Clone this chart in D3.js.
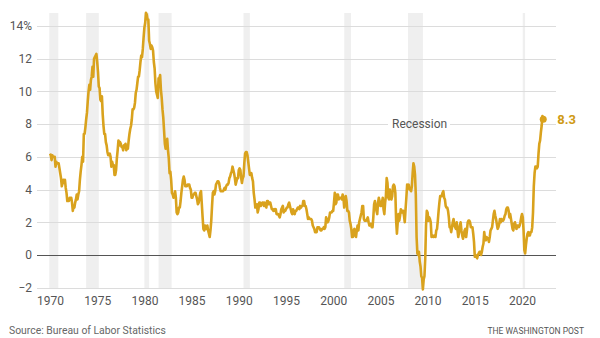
<!DOCTYPE html>
<html><head><meta charset="utf-8">
<script src="https://cdn.jsdelivr.net/npm/d3@7"></script>
<style>body{margin:0;background:#fff}svg{display:block}</style>
</head><body><svg id="c" width="600" height="338"></svg>
<script>
// Monthly CPI-U, year-over-year % change, Jan 1970 – Apr 2022
const startYear = 1970;
const cpi = [
6.2,6.1,5.8,6.1,6.0,6.0,6.0,5.4,5.7,5.6,5.6,5.6,
5.3,5.0,4.7,4.2,4.4,4.6,4.4,4.6,4.1,3.8,3.3,3.3,
3.3,3.5,3.5,3.5,3.2,2.7,3.0,2.9,3.2,3.4,3.7,3.4,
3.7,3.9,4.6,5.1,5.5,6.0,5.7,7.4,7.4,7.8,8.3,8.7,
9.4,10.0,10.4,10.1,10.7,10.9,11.5,10.9,12.0,12.1,12.2,12.3,
11.8,11.2,10.3,10.2,9.5,9.4,9.7,8.6,7.9,7.4,7.4,6.9,
6.7,6.3,6.1,6.1,6.2,6.0,5.4,5.7,5.5,5.5,4.9,4.9,
5.2,5.9,6.4,7.0,6.7,6.9,6.8,6.6,6.6,6.4,6.7,6.7,
6.8,6.4,6.6,6.5,7.0,7.4,7.7,7.9,8.3,8.9,8.9,9.0,
9.3,9.9,10.1,10.5,10.9,10.9,11.3,11.8,12.2,12.1,12.6,13.3,
13.9,14.2,14.8,14.7,14.4,14.4,13.1,12.9,12.6,12.8,12.7,12.5,
11.8,11.4,10.5,10.0,9.8,9.6,10.8,10.8,11.0,10.1,9.6,8.9,
8.4,7.6,6.8,6.5,6.7,7.1,6.4,5.9,5.0,5.1,4.6,3.8,
3.7,3.5,3.6,3.9,3.5,2.6,2.5,2.6,2.9,2.9,3.3,3.8,
4.2,4.6,4.8,4.6,4.2,4.2,4.2,4.3,4.3,4.3,4.1,4.0,
3.5,3.5,3.7,3.7,3.8,3.8,3.6,3.4,3.1,3.2,3.5,3.8,
3.9,3.1,2.3,1.6,1.5,1.8,1.6,1.6,1.8,1.5,1.3,1.1,
1.5,2.1,3.0,3.8,3.9,3.7,3.9,4.3,4.4,4.5,4.5,4.4,
4.1,3.9,3.9,3.9,3.9,4.0,4.1,4.0,4.2,4.3,4.3,4.4,
4.7,4.8,5.0,5.1,5.4,5.2,5.0,4.7,4.3,4.5,4.7,4.7,
5.2,5.3,5.2,4.7,4.4,4.7,4.8,5.6,6.2,6.3,6.3,6.1,
5.7,5.3,4.9,4.9,5.0,4.7,4.5,3.8,3.4,2.9,3.0,3.1,
2.6,2.8,3.2,3.2,3.0,3.1,3.2,3.2,3.0,3.2,3.1,2.9,
3.3,3.3,3.1,3.2,3.2,3.0,2.8,2.8,2.7,2.8,2.7,2.8,
2.5,2.5,2.5,2.4,2.3,2.5,2.8,2.9,3.0,2.6,2.7,2.7,
2.8,2.9,2.9,3.1,3.2,3.0,2.8,2.6,2.5,2.8,2.6,2.5,
2.7,2.7,2.8,2.9,2.9,2.8,3.0,2.9,3.0,3.0,3.3,3.3,
3.0,3.0,2.8,2.5,2.2,2.3,2.2,2.2,2.2,2.1,1.8,1.7,
1.6,1.4,1.4,1.4,1.7,1.7,1.7,1.6,1.5,1.5,1.6,1.6,
1.7,1.6,1.7,2.3,2.1,2.0,2.1,2.3,2.6,2.6,2.6,2.7,
2.7,3.2,3.8,3.1,3.2,3.7,3.7,3.4,3.5,3.5,3.5,3.4,
3.7,3.5,2.9,3.3,3.6,3.3,2.7,2.7,2.6,2.1,1.9,1.6,
1.1,1.1,1.5,1.6,1.2,1.1,1.5,1.8,1.5,2.0,2.2,2.4,
2.6,3.0,3.0,2.2,2.1,2.1,2.1,2.2,2.3,2.0,1.8,1.9,
1.9,1.7,1.7,2.3,3.1,3.3,3.0,2.7,2.5,3.2,3.5,3.3,
3.0,3.0,3.2,3.5,2.8,2.5,3.2,3.6,4.7,4.4,3.5,3.4,
4.0,3.6,3.4,3.6,4.2,4.3,4.2,3.8,2.1,1.3,2.0,2.5,
2.1,2.4,2.8,2.6,2.7,2.7,2.4,2.0,2.8,3.5,4.3,4.1,
4.3,4.0,4.0,3.9,4.2,5.0,5.6,5.4,4.9,3.7,1.1,0.1,
0.0,0.2,-0.4,-0.7,-1.3,-1.4,-2.1,-1.5,-1.3,-0.2,1.8,2.7,
2.6,2.1,2.3,2.2,2.0,1.1,1.2,1.1,1.1,1.2,1.1,1.5,
1.6,2.1,2.7,3.2,3.6,3.6,3.6,3.8,3.9,3.5,3.4,3.0,
2.9,2.9,2.7,2.3,1.7,1.7,1.4,1.7,2.0,2.2,1.8,1.7,
1.6,2.0,1.5,1.1,1.4,1.8,2.0,1.5,1.2,1.0,1.2,1.5,
1.6,1.1,1.5,2.0,2.1,2.1,2.0,1.7,1.7,1.7,1.3,0.8,
-0.1,0.0,-0.1,-0.2,0.0,0.1,0.2,0.2,0.0,0.2,0.5,0.7,
1.4,1.0,0.9,1.1,1.0,1.0,0.8,1.1,1.5,1.6,1.7,2.1,
2.5,2.7,2.4,2.2,1.9,1.6,1.7,1.9,2.2,2.0,2.2,2.1,
2.1,2.2,2.4,2.5,2.8,2.9,2.9,2.7,2.3,2.5,2.2,1.9,
1.6,1.5,1.9,2.0,1.8,1.6,1.8,1.8,1.7,1.8,2.0,2.3,
2.5,2.3,1.5,0.3,0.1,0.6,1.0,1.3,1.4,1.2,1.2,1.4,
1.4,1.7,2.6,4.2,5.0,5.4,5.4,5.3,5.4,6.2,6.8,7.0,
7.5,7.9,8.5,8.3
];
const recessions = [[1969.92,1970.88],[1973.83,1975.17],[1980.0,1980.5],[1981.5,1982.88],
  [1990.5,1991.17],[2001.17,2001.88],[2007.92,2009.5],[2020.08,2020.33]];
const yTicks = [-2,0,2,4,6,8,10,12,14];
const xTicks = [1970,1975,1980,1985,1990,1995,2000,2005,2010,2015,2020];
const lastLabel = "8.3";
const recessionLabel = "Recession";
const source = "Source: Bureau of Labor Statistics";
const credit = "THE WASHINGTON POST";

const data = cpi.map((v,i)=>({t: startYear + i/12, v}));
const svg = d3.select("#c");
const font = "Roboto, 'Noto Sans', sans-serif";
const x = d3.scaleLinear().domain([1970,2020]).range([50,522]);
const y = d3.scaleLinear().domain([0,14]).range([255,26]);
const gx0 = 37, gx1 = 556;

// recession bands
svg.append("g").selectAll("rect").data(recessions).join("rect")
  .attr("x", d=>x(d[0])).attr("width", d=>Math.max(2, x(d[1])-x(d[0])))
  .attr("y", 13).attr("height", 289-13).attr("fill", "#efefef");

// gridlines
const rText = {x0: 392, x1: 447};
const grid = svg.append("g");
yTicks.filter(t=>t!==0).forEach(t=>{
  const yy = Math.round(y(t))+0.5;
  const segs = t===8 ? [[gx0, rText.x0-4],[rText.x1+3, gx1]] : [[gx0,gx1]];
  segs.forEach(s=>grid.append("line").attr("x1",s[0]).attr("x2",s[1]).attr("y1",yy).attr("y2",yy)
    .attr("stroke","#dcdcdc").attr("stroke-width",1));
});
// zero line
svg.append("line").attr("x1",gx0).attr("x2",gx1).attr("y1",Math.round(y(0))+0.5).attr("y2",Math.round(y(0))+0.5)
  .attr("stroke","#555").attr("stroke-width",1);

// y axis labels
const yAxis = d3.axisLeft(y).tickValues(yTicks).tickSize(0).tickPadding(0)
  .tickFormat(d=> d===14 ? "14%" : (d<0 ? "\u2212"+Math.abs(d) : d));
svg.append("g").attr("transform","translate(32,0)").call(yAxis)
  .call(g=>g.select(".domain").remove())
  .call(g=>g.selectAll("text").attr("font-family",font).attr("font-size",12).attr("fill","#555"));

// x axis labels
const xAxis = d3.axisBottom(x).tickValues(xTicks).tickSize(0).tickPadding(0).tickFormat(d3.format("d"));
svg.append("g").attr("transform","translate(0,296)").call(xAxis)
  .call(g=>g.select(".domain").remove())
  .call(g=>g.selectAll("text").attr("font-family",font).attr("font-size",12).attr("fill","#555"));

// line
const line = d3.line().x(d=>x(d.t)).y(d=>y(d.v));
svg.append("path").datum(data).attr("d",line).attr("fill","none")
  .attr("stroke","#d9a21d").attr("stroke-width",2.6).attr("stroke-linejoin","round");

const last = data[data.length-1];
svg.append("circle").attr("cx",x(last.t)).attr("cy",y(last.v)).attr("r",3.5).attr("fill","#d9a21d");
svg.append("text").attr("x",x(last.t)+14).attr("y",y(last.v)+5).text(lastLabel)
  .attr("font-family",font).attr("font-weight","bold").attr("font-size",13).attr("fill","#cf9a14");

svg.append("text").attr("x",rText.x0).attr("y",y(8)+4).text(recessionLabel)
  .attr("font-family",font).attr("font-size",12).attr("fill","#555");

svg.append("text").attr("x",9).attr("y",334).text(source)
  .attr("font-family",font).attr("font-size",10.4).attr("fill","#666");
svg.append("text").attr("x",584).attr("y",334).attr("text-anchor","end").text(credit)
  .attr("font-family",font).attr("font-size",8.5).attr("fill","#555");
</script></body></html>
